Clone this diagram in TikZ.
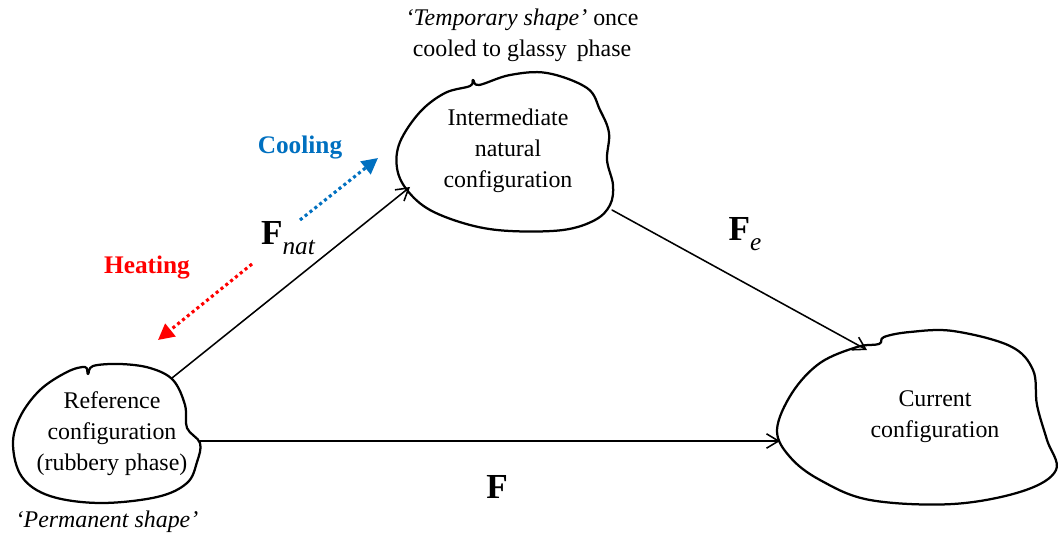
\documentclass[tikz,border=0pt]{standalone}
\usepackage{fontspec}
\setmainfont{Liberation Serif}
\usetikzlibrary{arrows.meta}
\definecolor{coolblue}{RGB}{0,112,192}
\definecolor{heatred}{RGB}{255,0,0}

\begin{document}
\begin{tikzpicture}[x=0.025cm, y=-0.025cm, line join=round, line cap=round,
    blob/.style={line width=1.6pt},
    conf/.style={align=center, font=\fontsize{17}{22}\selectfont},
    note/.style={align=center, font=\fontsize{17}{22}\selectfont},
    map/.style={-{Straight Barb[length=3mm, width=3.6mm]}, line width=1.1pt},
    phase/.style={-{Triangle[length=4mm, width=4mm]}, line width=2.2pt, line cap=butt, dash pattern=on 2.2pt off 2.2pt},
    grad/.style={font=\fontsize{25}{25}\selectfont\bfseries}]
      \useasboundingbox (0,0) rectangle (1058,538);
      % configurations
      \draw[blob] plot[smooth cycle, tension=0.6] coordinates {(40,390) (67,372) (85,367) (88,374) (93,366) (120,364) (150,368) (173,380) (185,405) (187,428) (200,443) (197,462) (187,483) (157,497) (100,503) (50,496) (22,477) (13,445) (20,417)};
      \draw[blob] plot[smooth cycle, tension=0.6] coordinates {(420,112) (445,93) (470,86) (473,80) (479,85) (510,75) (547,73) (587,88) (600,110) (609,133) (607,160) (613,185) (610,205) (595,220) (563,230) (510,231) (470,225) (430,210) (407,190) (397,168) (400,142)};
      \draw[blob] plot[smooth cycle, tension=0.6] coordinates {(820,363) (857,347) (879,344) (884,337) (910,332) (953,331) (1010,346) (1033,370) (1037,405) (1047,440) (1056,470) (1023,491) (953,504) (870,500) (820,480) (790,457) (777,430) (792,393)};
      \node[conf] (ref) at (112,434) {Reference\\configuration\\(rubbery phase)};
      \node[conf] (inter) at (508,151) {Intermediate\\natural\\configuration};
      \node[conf] (cur) at (935,417) {Current\\configuration};
      \node[note] (temp) at (522,35) {\textit{`Temporary shape'} once\\cooled to glassy\, phase};
      \node[note] (perm) at (107,522) {\textit{`Permanent shape'}};
      % contact points on the outlines
      \coordinate (ref-ne) at (172,378);
      \coordinate (ref-e) at (200,441);
      \coordinate (inter-sw) at (410,187);
      \coordinate (inter-se) at (612,210);
      \coordinate (cur-n) at (867,350);
      \coordinate (cur-w) at (780,441);
      % maps
      \draw[map] (ref-ne) -- (inter-sw);
      \draw[map] (inter-se) -- (cur-n);
      \draw[map] (ref-e) -- (cur-w);
      \node[grad] (fnat) at (288,238) {F\raisebox{-0.3em}{\fontsize{18}{18}\selectfont\mdseries\itshape nat}};
      \node[grad] (fe) at (745,234) {F\raisebox{-0.3em}{\fontsize{18}{18}\selectfont\mdseries\itshape e}};
      \node[grad] (f) at (497,487) {F};
      % heating and cooling
      \coordinate (cool-s) at (300,220);
      \coordinate (cool-e) at (378,158);
      \coordinate (heat-s) at (252,264);
      \coordinate (heat-e) at (158,340);
      \draw[phase, coolblue] (cool-s) -- (cool-e);
      \draw[phase, heatred] (heat-s) -- (heat-e);
      \node[text=coolblue, font=\fontsize{18}{18}\selectfont\bfseries] (cool) at (300,148) {Cooling};
      \node[text=heatred, font=\fontsize{18}{18}\selectfont\bfseries] (heat) at (147,268) {Heating};
    \end{tikzpicture}
\end{document}
